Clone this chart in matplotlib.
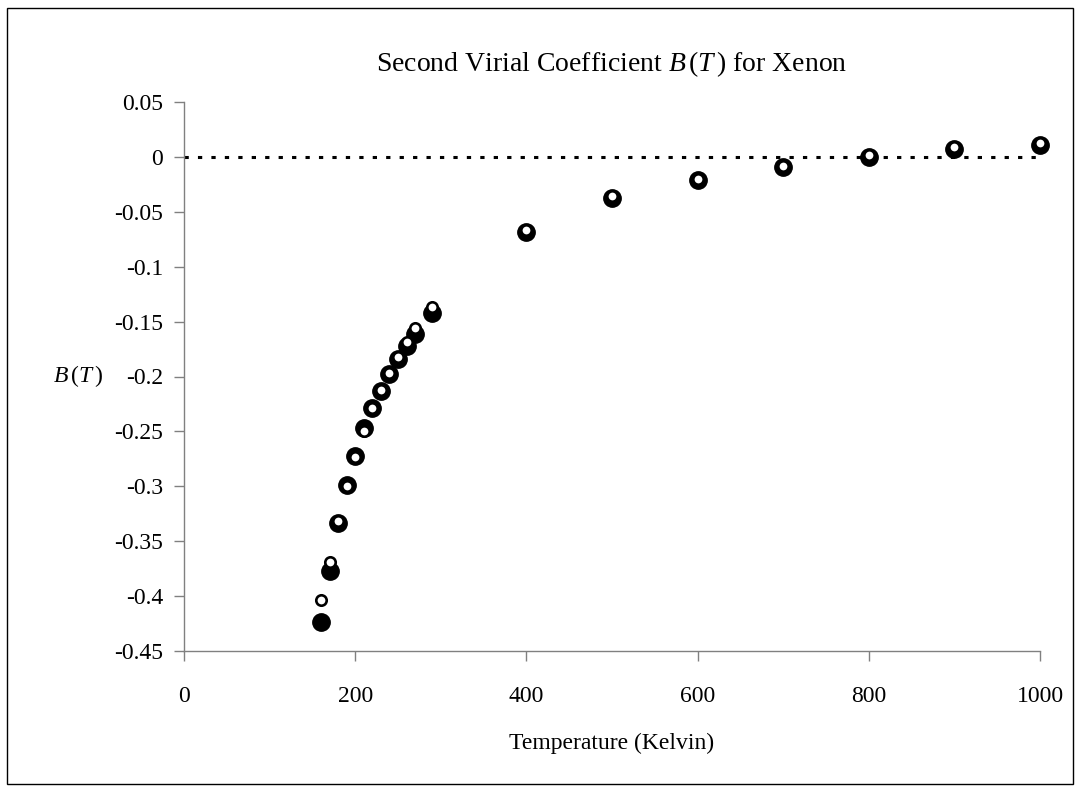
import matplotlib.pyplot as plt
from matplotlib.patches import Rectangle
from matplotlib.ticker import FuncFormatter

plt.rcParams["font.family"] = "Liberation Serif"
plt.rcParams["mathtext.fontset"] = "custom"
plt.rcParams["mathtext.rm"] = "Liberation Serif"
plt.rcParams["mathtext.it"] = "Liberation Serif:italic"

# temperature (K)
temps = [160, 170, 180, 190, 200, 210, 220, 230, 240, 250, 260, 270, 290,
         400, 500, 600, 700, 800, 900, 1000]
# filled markers (experimental)
b_filled = [-0.424, -0.377, -0.333, -0.299, -0.272, -0.247, -0.229, -0.213,
            -0.198, -0.184, -0.172, -0.161, -0.142, -0.068, -0.037, -0.021,
            -0.009, 0.000, 0.007, 0.011]
# open markers (model)
b_open = [-0.404, -0.369, -0.332, -0.300, -0.273, -0.250, -0.229, -0.212,
          -0.197, -0.182, -0.169, -0.156, -0.137, -0.067, -0.036, -0.020,
          -0.008, 0.002, 0.009, 0.013]

fig = plt.figure(figsize=(10.81, 7.92), dpi=100)
fig.patches.append(Rectangle((7 / 1081, 8 / 792), 1066 / 1081, 776 / 792,
                             transform=fig.transFigure, fill=False,
                             edgecolor="black", linewidth=1))

ax = fig.add_axes([184 / 1081, 1 - 651 / 792, 856 / 1081, 549 / 792])

ax.plot([0, 1000], [0, 0], color="black", linewidth=2.2,
        linestyle=(0, (1.4, 3)), zorder=1)
ax.plot(temps, b_filled, "o", color="black", markersize=12.5, zorder=2,
        clip_on=False)
ax.plot(temps, b_open, "o", markerfacecolor="white", markeredgecolor="black",
        markersize=7.5, markeredgewidth=1.9, zorder=3, clip_on=False)

ax.set_xlim(0, 1000)
ax.set_ylim(-0.45, 0.05)
ax.set_xticks([0, 200, 400, 600, 800, 1000])
ax.set_yticks([0.05, 0, -0.05, -0.1, -0.15, -0.2, -0.25, -0.3, -0.35, -0.4, -0.45])
ax.yaxis.set_major_formatter(FuncFormatter(lambda v, p: "%g" % round(v, 2)))

for side in ["top", "right"]:
    ax.spines[side].set_visible(False)
for side in ["left", "bottom"]:
    ax.spines[side].set_color("#808080")
    ax.spines[side].set_linewidth(1)

ax.tick_params(direction="out", length=7, width=1, color="#808080",
               labelsize=17, pad=8)
ax.tick_params(axis="x", pad=18)

ax.set_title(r"Second Virial Coefficient $B\,(T\,)$ for Xenon", fontsize=20,
             pad=22)
ax.set_xlabel("Temperature (Kelvin)", fontsize=17, labelpad=19)
ax.set_ylabel(r"$B\,(T\,)$", fontsize=17, rotation=0, labelpad=26, va="center")

fig.savefig("out.png", dpi=100)
